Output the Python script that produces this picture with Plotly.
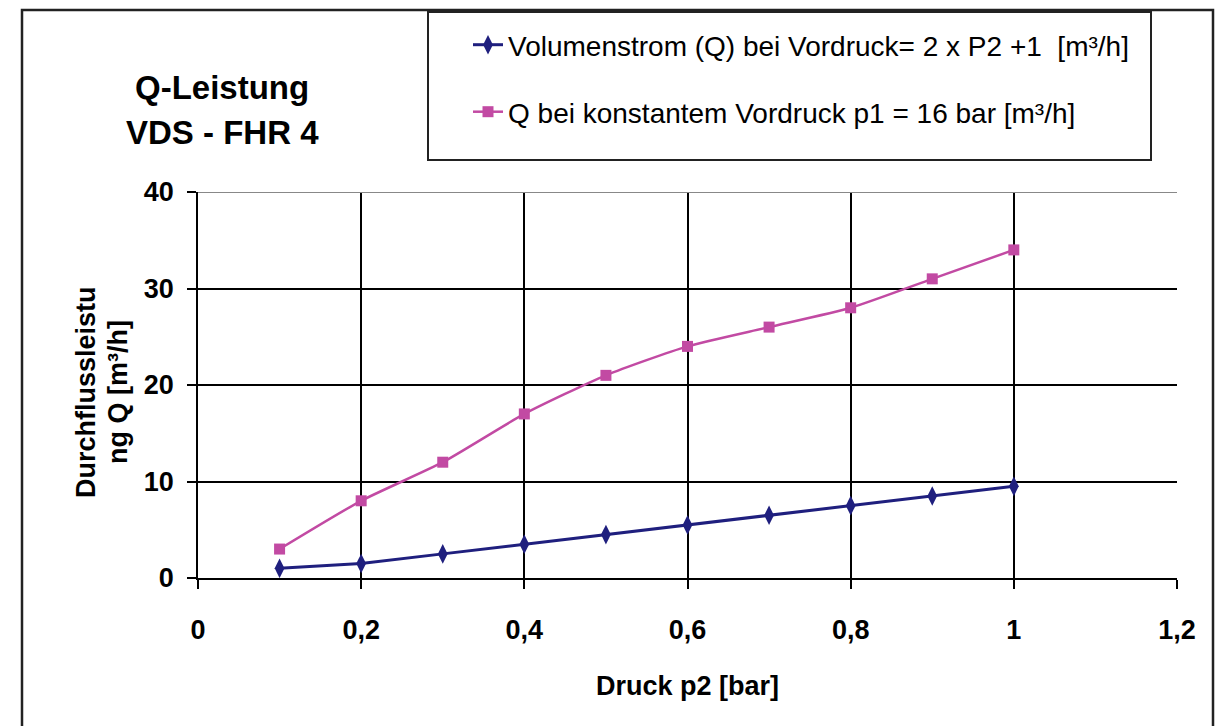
import plotly.graph_objects as go

# ---- data ----
druck_p2 = [0.1, 0.2, 0.3, 0.4, 0.5, 0.6, 0.7, 0.8, 0.9, 1.0]
q_vordruck_formel = [1.0, 1.5, 2.5, 3.5, 4.5, 5.5, 6.5, 7.5, 8.5, 9.5]
q_konstant_16bar = [3, 8, 12, 17, 21, 24, 26, 28, 31, 34]
x_ticks = [0, 0.2, 0.4, 0.6, 0.8, 1.0, 1.2]
x_tick_labels = ["0", "0,2", "0,4", "0,6", "0,8", "1", "1,2"]
y_ticks = [0, 10, 20, 30, 40]
name_1 = "Volumenstrom (Q) bei Vordruck= 2 x P2 +1  [m³/h]"
name_2 = "Q bei konstantem Vordruck p1 = 16 bar [m³/h]"

# ---- layout geometry (page pixels; the page body has an 8px margin) ----
OFF = 8
W, H = 1227 - OFF, 726 - OFF
L, R, T, B = 198, 1177, 192, 578
PW, PH = R - L, B - T


def px(x):
    return (x - L) / PW


def py(y):
    return (B - y) / PH


FONT = "Liberation Sans, Arial, sans-serif"
BLUE = "#1F1F7E"
PINK = "#C24AA3"

fig = go.Figure()
fig.add_trace(go.Scatter(
    x=druck_p2, y=q_vordruck_formel, name=name_1, mode="lines+markers",
    line=dict(color=BLUE, width=3),
    marker=dict(symbol="diamond-tall", size=14, color=BLUE),
    legend="legend",
))
fig.add_trace(go.Scatter(
    x=druck_p2, y=q_konstant_16bar, name=name_2, mode="lines+markers",
    line=dict(color=PINK, width=2.5, shape="spline", smoothing=0.6),
    marker=dict(symbol="square", size=11, color=PINK),
    legend="legend2",
))

fig.update_layout(
    width=W, height=H, autosize=False,
    margin=dict(l=L - OFF, r=(W + OFF) - R, t=T - OFF, b=(H + OFF) - B),
    paper_bgcolor="white", plot_bgcolor="white",
    font=dict(family=FONT, color="black"),
    showlegend=True,
    legend=dict(x=px(468), y=py(45), xanchor="left", yanchor="middle",
                font=dict(family=FONT, size=28, color="black"),
                bgcolor="rgba(0,0,0,0)", borderwidth=0),
    legend2=dict(x=px(468), y=py(112), xanchor="left", yanchor="middle",
                 font=dict(family=FONT, size=28, color="black"),
                 bgcolor="rgba(0,0,0,0)", borderwidth=0),
    xaxis=dict(range=[0, 1.2], tickvals=x_ticks, ticktext=x_tick_labels,
               showgrid=True, gridcolor="black", gridwidth=1.5,
               showline=True, linecolor="black", linewidth=1.5,
               ticks="outside", ticklen=9, tickcolor="black", tickwidth=1.5,
               ticklabelstandoff=18, zeroline=False,
               tickfont=dict(family=FONT, size=27, weight="bold", color="black")),
    yaxis=dict(range=[0, 40], tickvals=y_ticks,
               showgrid=True, gridcolor="black", gridwidth=1.5,
               showline=True, linecolor="black", linewidth=1.5,
               ticks="outside", ticklen=9, tickcolor="black", tickwidth=1.5,
               ticklabelstandoff=8, zeroline=False,
               tickfont=dict(family=FONT, size=27, weight="bold", color="black")),
)

shapes = [
    # outer chart frame
    dict(type="rect", xref="paper", yref="paper",
         x0=px(22), x1=px(1213), y0=py(10), y1=py(740),
         line=dict(color="#222", width=2.5)),
    # legend frame
    dict(type="rect", xref="paper", yref="paper",
         x0=px(428), x1=px(1151), y0=py(12), y1=py(160),
         line=dict(color="#222", width=2)),
    # top plot border (grey)
    dict(type="line", xref="paper", yref="y", x0=0, x1=1, y0=40, y1=40,
         line=dict(color="#888", width=2)),
]
fig.update_layout(shapes=shapes)

annotations = [
    dict(text="Q-Leistung", x=px(222), y=py(88), xref="paper", yref="paper",
         showarrow=False, xanchor="center", yanchor="middle",
         font=dict(family=FONT, size=33, weight="bold")),
    dict(text="VDS - FHR 4", x=px(222), y=py(133), xref="paper", yref="paper",
         showarrow=False, xanchor="center", yanchor="middle",
         font=dict(family=FONT, size=33, weight="bold")),
    dict(text="Druck p2 [bar]", x=px(687), y=py(686), xref="paper", yref="paper",
         showarrow=False, xanchor="center", yanchor="middle",
         font=dict(family=FONT, size=27, weight="bold")),
    dict(text="Durchflussleistu", x=px(86), y=py(392),
         xref="paper", yref="paper", textangle=-90,
         showarrow=False, xanchor="center", yanchor="middle",
         font=dict(family=FONT, size=27, weight="bold")),
    dict(text="ng Q [m³/h]", x=px(118), y=py(392),
         xref="paper", yref="paper", textangle=-90,
         showarrow=False, xanchor="center", yanchor="middle",
         font=dict(family=FONT, size=27, weight="bold")),
]
fig.update_layout(annotations=annotations)

fig.write_html("out.html")
